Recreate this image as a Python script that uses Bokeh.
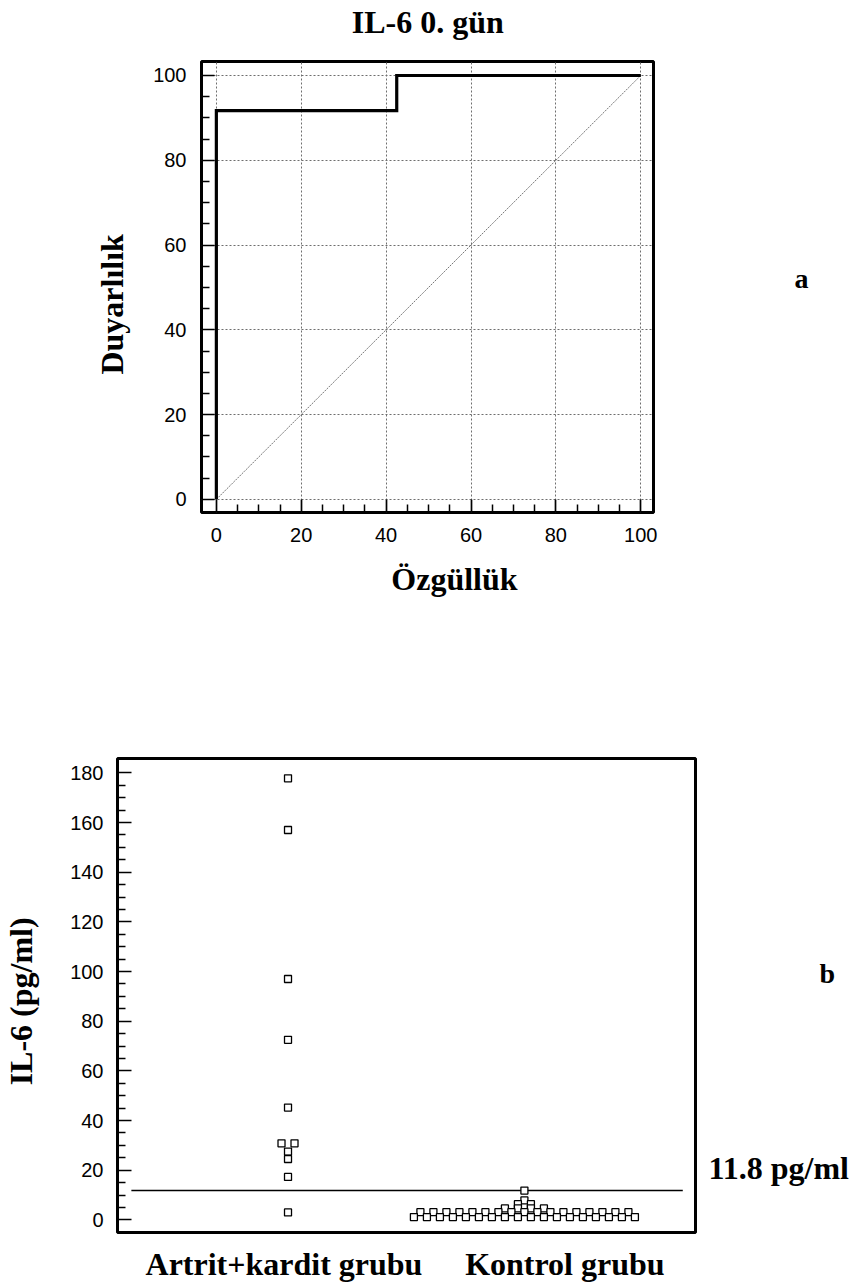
import math
from bokeh.plotting import figure
from bokeh.models import FixedTicker, Range1d, LinearAxis
from bokeh.embed import file_html
from bokeh.resources import INLINE
from collections import Counter

# ---------------- data ----------------
title_a = "IL-6 0. gün"
xlabel_a = "Özgüllük"
ylabel_a = "Duyarlılık"
panel_a = "a"
roc_x = [0, 0, 42.5, 42.5, 100]
roc_y = [0, 91.7, 91.7, 100, 100]
diag_x = [0, 100]
diag_y = [0, 100]
ticks_a = [0, 20, 40, 60, 80, 100]

groups = ["Artrit+kardit grubu", "Kontrol grubu"]
ylabel_b = "IL-6 (pg/ml)"
panel_b = "b"
artrit_values = [177.8, 157.0, 97.0, 72.5, 45.2, 30.8, 30.8, 27.5, 24.5, 17.3, 3.0]
kontrol_values = [11.8, 7.8, 6.3, 6.3, 4.6, 4.6, 4.6, 4.6] + [3.1] * 17 + [1.1] * 18
cutoff = 11.8
cutoff_label = "11.8 pg/ml"
ticks_b = [0, 20, 40, 60, 80, 100, 120, 140, 160, 180]

SERIF = "Liberation Serif"
SANS = "Liberation Sans"


def style_axis(ax, tick_in, minor_in, standoff):
    ax.axis_line_color = None
    ax.major_tick_in = tick_in
    ax.major_tick_out = 0
    ax.minor_tick_in = minor_in
    ax.minor_tick_out = 0
    ax.major_tick_line_width = 1.7
    ax.minor_tick_line_width = 1.5
    ax.major_tick_line_color = "black"
    ax.minor_tick_line_color = "black"
    ax.major_label_text_font = SANS
    ax.major_label_text_font_size = "20px"
    ax.major_label_text_color = "black"
    ax.major_label_standoff = standoff


def text_axis(p, side, pos, text, standoff, size="32px", orientation="horizontal", **kw):
    """An axis carrying a single text as its only tick label (placed by the plot's scale)."""
    ax = LinearAxis(ticker=FixedTicker(ticks=[pos], minor_ticks=[]),
                    major_label_overrides={pos: text}, **kw)
    ax.axis_line_color = None
    ax.major_tick_in = 0
    ax.major_tick_out = 0
    ax.minor_tick_in = 0
    ax.minor_tick_out = 0
    ax.major_label_text_font = SERIF
    ax.major_label_text_font_style = "bold"
    ax.major_label_text_font_size = size
    ax.major_label_text_color = "black"
    ax.major_label_standoff = standoff
    ax.major_label_orientation = orientation
    p.add_layout(ax, side)
    return ax


# ---------------- figure a (ROC) ----------------
p1 = figure(width=859, height=700, output_backend="svg", toolbar_location=None,
            x_range=Range1d(-3.5, 103), y_range=Range1d(-3.1, 103.3),
            min_border_left=201, min_border_right=206, min_border_top=59, min_border_bottom=188)
p1.outline_line_color = "black"
p1.outline_line_width = 3
p1.background_fill_color = "white"
p1.border_fill_color = "white"

minor_a = [v for v in range(5, 100, 5) if v % 20 != 0]
for ax in (p1.xaxis[0], p1.yaxis[0]):
    ax.ticker = FixedTicker(ticks=ticks_a, minor_ticks=minor_a)
    style_axis(ax, 13, 8, 15)

p1.xgrid.ticker = FixedTicker(ticks=ticks_a)
p1.ygrid.ticker = FixedTicker(ticks=ticks_a)
for g in (p1.xgrid[0], p1.ygrid[0]):
    g.grid_line_color = "#6e6e6e"
    g.grid_line_dash = "2 2"
    g.grid_line_width = 1

p1.line(diag_x, diag_y, line_color="#777777", line_width=1, line_dash="2 1")
p1.line(roc_x, roc_y, line_color="black", line_width=3.2, line_join="miter")

text_axis(p1, "above", 49.8, title_a, 22)
text_axis(p1, "below", 56.1, xlabel_a, 16)
text_axis(p1, "left", 46.0, ylabel_a, 20, orientation="vertical")
text_axis(p1, "right", 52.2, panel_a, 141, size="28px")

# ---------------- figure b (dot plot) ----------------
p2 = figure(width=859, height=584, output_backend="svg", toolbar_location=None,
            x_range=Range1d(0, 1), y_range=Range1d(-5.1, 185.8),
            min_border_left=117, min_border_right=164, min_border_top=58, min_border_bottom=52)
p2.outline_line_color = "black"
p2.outline_line_width = 3
p2.background_fill_color = "white"
p2.border_fill_color = "white"
p2.grid.visible = False

minor_b = [v for v in range(5, 180, 5) if v % 20 != 0]
ya = p2.yaxis[0]
ya.ticker = FixedTicker(ticks=ticks_b, minor_ticks=minor_b)
style_axis(ya, 14, 8, 14)

group_centers = [0.295, 0.704]
label_pos = [0.288, 0.774]
xa = p2.xaxis[0]
xa.ticker = FixedTicker(ticks=label_pos, minor_ticks=[])
xa.major_label_overrides = {label_pos[0]: groups[0], label_pos[1]: groups[1]}
style_axis(xa, 0, 0, 13)
xa.major_label_text_font = SERIF
xa.major_label_text_font_style = "bold"
xa.major_label_text_font_size = "32px"

step = 13.0 / 578.0  # horizontal spacing of stacked dots (layout)


def dot_positions(values, center):
    counts = Counter(values)
    seen = Counter()
    xs = []
    for v in values:
        n = counts[v]
        i = seen[v]
        seen[v] += 1
        xs.append(center + (i - (n - 1) / 2.0) * step)
    return xs


ax_x = dot_positions(artrit_values, group_centers[0])
ko_x = dot_positions(kontrol_values, group_centers[1])

p2.segment(x0=0.024, x1=0.978, y0=cutoff, y1=cutoff, line_color="black", line_width=1.6)
p2.scatter(ko_x, kontrol_values, marker="square", size=7, fill_color="white",
           line_color="black", line_width=1.3)
p2.scatter(ax_x, artrit_values, marker="square", size=7, fill_color="white",
           line_color="black", line_width=1.3)

text_axis(p2, "left", 88.0, ylabel_b, 28, orientation="vertical")
text_axis(p2, "right", 21.0, cutoff_label, 13)
text_axis(p2, "right", 99.2, panel_b, -32, size="28px")

open("out.html", "w").write(file_html([p1, p2], INLINE))
